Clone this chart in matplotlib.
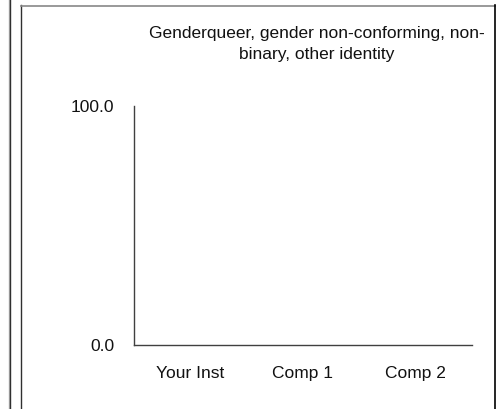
import matplotlib.pyplot as plt
from matplotlib.lines import Line2D

categories = ["Your Inst", "Comp 1", "Comp 2"]
values = [0.0, 0.0, 0.0]
yticks = [0, 100]
ytick_labels = ["0.0", "100.0"]
title = "Genderqueer, gender non-conforming, non-\nbinary, other identity"

W, H = 499, 409
plt.rcParams['font.family'] = ['Liberation Sans', 'DejaVu Sans']
fig = plt.figure(figsize=(W / 100, H / 100), dpi=100)

# panel frames (pixel coords -> figure fraction)
def fx(x):
    return x / W

def fy(y):
    return 1 - y / H

fig.add_artist(Line2D([fx(8.5), fx(8.5)], [0, 1], color='#b0b0b0', linewidth=1))
fig.add_artist(Line2D([fx(9.5), fx(9.5)], [0, 1], color='#303030', linewidth=1))
fig.add_artist(Line2D([fx(20.5), fx(20.5)], [0, fy(5)], color='#303030', linewidth=1))
fig.add_artist(Line2D([fx(20.5), fx(494.5)], [fy(5.5), fy(5.5)], color='#888888', linewidth=1.2))
fig.add_artist(Line2D([fx(494.5), fx(494.5)], [0, fy(5)], color='#000000', linewidth=1.2))

ax = fig.add_axes([fx(134), fy(345), fx(472) - fx(134), fy(106) - fy(345)])
ax.bar(range(len(categories)), values, width=0.6, color='#4472c4')
ax.set_xlim(-0.5, len(categories) - 0.5)
ax.set_ylim(0, 100)
ax.set_yticks(yticks)
ax.set_yticklabels(ytick_labels)
ax.set_xticks(range(len(categories)))
ax.set_xticklabels(categories)
ax.tick_params(axis='both', length=0, labelsize=12.5, colors='#111111')
ax.tick_params(axis='x', pad=15)
ax.tick_params(axis='y', pad=14)
ax.spines['top'].set_visible(False)
ax.spines['right'].set_visible(False)
for s in ('left', 'bottom'):
    ax.spines[s].set_color('#404040')
    ax.spines[s].set_linewidth(1)
ax.patch.set_alpha(0)

fig.text(fx(317), fy(44), title, ha='center', va='center', fontsize=12.5,
         color='#111111', linespacing=1.5)

fig.savefig('out.png', dpi=100)
